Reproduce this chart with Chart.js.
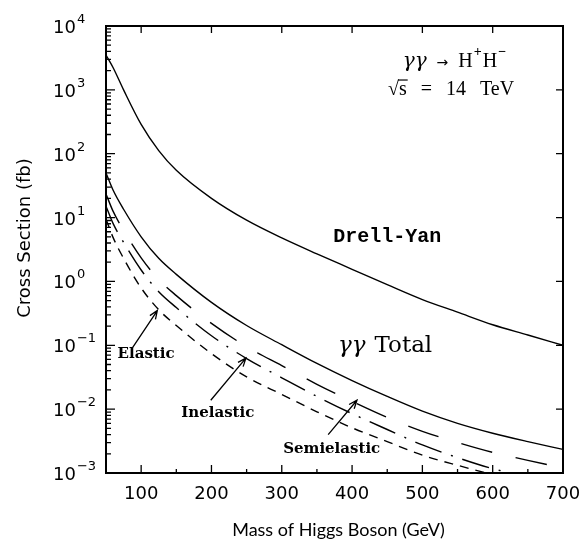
<!DOCTYPE html>
<html><head><meta charset="utf-8">
<script src="https://cdn.jsdelivr.net/npm/chart.js@4.4.1/dist/chart.umd.min.js"></script>
<style>html,body{margin:0;padding:0;background:#fff}canvas{display:block}</style>
</head><body>
<canvas id="c" width="581" height="540"></canvas>
<script>
// ---- data ----
const masses = [50, 60, 75, 100, 125, 150, 200, 250, 300, 350, 400, 450, 500, 550, 600, 650, 700];
const drellYan = [3500, 2240, 1000, 288, 112, 55, 20, 9.1, 4.8, 2.7, 1.55, 0.89, 0.52, 0.33, 0.21, 0.145, 0.1];
const gammaGammaTotal = [50, 27, 13.5, 5.0, 2.3, 1.29, 0.47, 0.204, 0.102, 0.052, 0.028, 0.0158, 0.0093, 0.006, 0.0042, 0.0031, 0.00234];
const semielastic = [23.4, 12.6, 6.3, 2.34, 1.07, 0.60, 0.22, 0.095, 0.048, 0.0245, 0.0132, 0.0074, 0.0045, 0.003, 0.0021, 0.00158, 0.0012];
const inelastic = [15.1, 8.1, 4.1, 1.51, 0.69, 0.39, 0.141, 0.062, 0.031, 0.0158, 0.0085, 0.0048, 0.00275, 0.00174, 0.00117, 0.00087, 0.00066];
const elastic = [9.5, 4.9, 2.3, 0.79, 0.36, 0.204, 0.074, 0.032, 0.017, 0.0091, 0.0051, 0.0031, 0.0019, 0.00132, 0.00095, 0.00074, 0.00059];

const xTickValues = [100, 200, 300, 400, 500, 600, 700];
const xTickLabels = ['100', '200', '300', '400', '500', '600', '700'];
const xMinorTicks = [150, 250, 350, 450, 550, 650];
const yTickExponents = [-3, -2, -1, 0, 1, 2, 3, 4];
const yTickExpLabels = ['\u22123', '\u22122', '\u22121', '0', '1', '2', '3', '4'];
const xTitle = 'Mass of Higgs Boson (GeV)';
const yTitle = 'Cross Section (fb)';

const pts = arr => masses.map((m, i) => ({x: m, y: arr[i]}));
const line = (arr, dash) => ({data: pts(arr), borderColor: '#000', borderWidth: 1.4, borderDash: dash,
  pointRadius: 0, fill: false, cubicInterpolationMode: 'monotone'});

const framePlugin = {
  id: 'frame',
  afterDraw(chart) {
    const {ctx, chartArea: a, scales: {x, y}} = chart;
    ctx.save();
    ctx.strokeStyle = '#000';
    ctx.fillStyle = '#000';
    ctx.lineWidth = 1.3;
    ctx.beginPath();
    xTickValues.forEach(v => {
      const px = x.getPixelForValue(v);
      if (v < 700) { ctx.moveTo(px, a.bottom); ctx.lineTo(px, a.bottom - 8);
        ctx.moveTo(px, a.top); ctx.lineTo(px, a.top + 7); }
    });
    xMinorTicks.forEach(v => { const px = x.getPixelForValue(v); ctx.moveTo(px, a.bottom); ctx.lineTo(px, a.bottom - 4); });
    yTickExponents.forEach(e => {
      const py = y.getPixelForValue(Math.pow(10, e));
      ctx.moveTo(a.left, py); ctx.lineTo(a.left + 9, py);
      ctx.moveTo(a.right, py); ctx.lineTo(a.right - 7, py);
      if (e < 4) for (let m = 2; m <= 9; m++) {
        const pm = y.getPixelForValue(m * Math.pow(10, e));
        ctx.moveTo(a.left, pm); ctx.lineTo(a.left + 5, pm);
      }
    });
    ctx.stroke();
    ctx.lineWidth = 2;
    ctx.strokeRect(a.left, a.top, a.right - a.left, a.bottom - a.top);

    // y tick labels 10^n, left aligned
    ctx.textAlign = 'left';
    ctx.textBaseline = 'alphabetic';
    yTickExponents.forEach((e, i) => {
      const py = y.getPixelForValue(Math.pow(10, e));
      ctx.font = '18px "DejaVu Sans"';
      ctx.fillText('10', 53, py + 7);
      const w = ctx.measureText('10').width;
      ctx.font = '13px "DejaVu Sans"';
      ctx.fillText(yTickExpLabels[i], 53 + w + 1, py - 3);
    });
    // x tick labels
    ctx.textAlign = 'center';
    ctx.font = '18px "DejaVu Sans"';
    xTickValues.forEach((v, i) => ctx.fillText(xTickLabels[i], x.getPixelForValue(v), 499));
    // titles
    ctx.font = '18px "Lato"';
    ctx.textBaseline = 'middle';
    ctx.fillText(xTitle, (a.left + a.right) / 2 + 4, 530);
    ctx.save();
    ctx.translate(25, 238);
    ctx.rotate(-Math.PI / 2);
    ctx.font = '18px "DejaVu Sans"';
    ctx.fillText(yTitle, 0, 0);
    ctx.restore();
    ctx.restore();
  }
};

function runs(ctx, parts, x0, y0, align) {
  let total = 0;
  parts.forEach(p => { ctx.font = p.f; total += ctx.measureText(p.t).width + (p.gap || 0); });
  let cx = align === 'center' ? x0 - total / 2 : x0;
  ctx.textAlign = 'left';
  parts.forEach(p => { ctx.font = p.f; ctx.fillText(p.t, cx, y0 + (p.dy || 0));
    const w = ctx.measureText(p.t).width;
    if (p.over) { ctx.lineWidth = 1.2; ctx.beginPath(); ctx.moveTo(cx - 1, y0 - 15); ctx.lineTo(cx + w + 1, y0 - 15); ctx.stroke(); }
    cx += w + (p.gap || 0); });
}
function arrow(ctx, x1, y1, x2, y2) {
  ctx.lineWidth = 1.3;
  ctx.beginPath(); ctx.moveTo(x1, y1); ctx.lineTo(x2, y2);
  const ang = Math.atan2(y2 - y1, x2 - x1), L = 9, s = 0.38;
  ctx.moveTo(x2 - L * Math.cos(ang - s), y2 - L * Math.sin(ang - s)); ctx.lineTo(x2, y2);
  ctx.lineTo(x2 - L * Math.cos(ang + s), y2 - L * Math.sin(ang + s));
  ctx.stroke();
}

const annotPlugin = {
  id: 'annot',
  afterDraw(chart) {
    const {ctx, scales: {x, y}} = chart;
    const X = v => x.getPixelForValue(v), Y = v => y.getPixelForValue(v);
    ctx.save();
    ctx.fillStyle = '#000'; ctx.strokeStyle = '#000'; ctx.textBaseline = 'alphabetic';
    // process and energy
    const serif = '20px "Liberation Serif"';
    runs(ctx, [{t: '\u03b3\u03b3', f: 'italic 20px "DejaVu Serif"', gap: 10}, {t: '\u2192', f: '14px "DejaVu Sans"', gap: 10},
      {t: 'H', f: serif, gap: 1}, {t: '+', f: 'bold 14px "Liberation Serif"', dy: -11, gap: 1}, {t: 'H', f: serif, gap: 1},
      {t: '\u2212', f: 'bold 14px "Liberation Serif"', dy: -11}], X(472), Y(2290), 'left');
    runs(ctx, [{t: '\u221a', f: serif}, {t: 's', f: serif, over: true, gap: 14}, {t: '=', f: serif, gap: 14},
      {t: '14', f: serif, gap: 14}, {t: 'TeV', f: serif}], X(451), Y(830), 'left');
    // curve labels
    ctx.font = 'bold 20px "Liberation Mono"'; ctx.textAlign = 'center';
    ctx.fillText('Drell-Yan', X(450), Y(4.2));
    runs(ctx, [{t: '\u03b3\u03b3', f: 'italic 23px "DejaVu Serif"', gap: 9}, {t: 'Total', f: '23px "DejaVu Serif"'}],
      X(447), Y(0.079), 'center');
    ctx.font = 'bold 15px "DejaVu Serif"'; ctx.textAlign = 'center';
    ctx.fillText('Elastic', X(107), Y(0.063));
    ctx.fillText('Inelastic', X(209), Y(0.0076));
    ctx.fillText('Semielastic', X(371), Y(0.00204));
    arrow(ctx, X(88), Y(0.093), X(123), Y(0.35));
    arrow(ctx, X(199), Y(0.0138), X(249), Y(0.063));
    arrow(ctx, X(366), Y(0.004), X(407), Y(0.0138));
    ctx.restore();
  }
};

new Chart(document.getElementById('c'), {
  type: 'line',
  data: {datasets: [
    line(drellYan, []),
    line(gammaGammaTotal, []),
    line(semielastic, [32, 24]),
    line(inelastic, [28, 10, 2, 10]),
    line(elastic, [9, 7])
  ]},
  options: {
    responsive: false, animation: false, devicePixelRatio: 1,
    layout: {padding: {left: 106, top: 26, right: 18, bottom: 67}},
    plugins: {legend: {display: false}, tooltip: {enabled: false}},
    scales: {
      x: {type: 'linear', min: 50, max: 700, display: false},
      y: {type: 'logarithmic', min: 1e-3, max: 1e4, display: false}
    }
  },
  plugins: [framePlugin, annotPlugin]
});
</script>
</body></html>
